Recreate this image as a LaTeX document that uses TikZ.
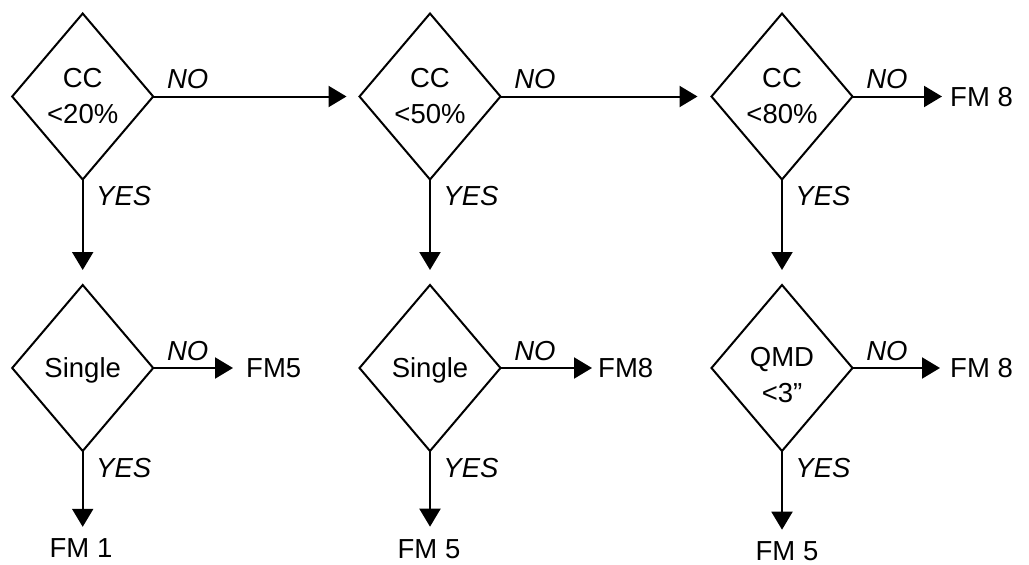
\documentclass[tikz,border=0pt]{standalone}
\usepackage{fontspec}
\setmainfont{Liberation Sans}
\usetikzlibrary{shapes.geometric,arrows.meta,calc}
\begin{document}
\begin{tikzpicture}[x=1pt,y=-1pt,
  dia/.style={draw, line width=2pt, shape=diamond, minimum width=141pt, minimum height=166pt, inner sep=0pt, outer sep=0pt},
  txt/.style={inner sep=0pt, font=\fontsize{27.5}{36}\selectfont, align=center},
  lbl/.style={inner sep=0pt, font=\fontsize{27.5}{33}\selectfont\itshape},
  res/.style={inner sep=0pt, font=\fontsize{27.5}{33}\selectfont},
  arr/.style={line width=2pt, -{Triangle[length=18pt,width=21pt]}}]
\useasboundingbox (0,0) rectangle (1029,565);
% diamonds
\node[dia] (d1) at (82.7,96.5) {};
\node[dia] (d2) at (430,96.5) {};
\node[dia] (d3) at (782,96.5) {};
\node[dia] (d4) at (82.7,368) {};
\node[dia] (d5) at (430,368) {};
\node[dia] (d6) at (782,368) {};
% texts inside
\node[txt] (t1) at (d1.center) {CC\\<20\%};
\node[txt] (t2) at (d2.center) {CC\\<50\%};
\node[txt] (t3) at (d3.center) {CC\\<80\%};
\node[txt] (t4) at ($(d4.center)+(0,2)$) {Single};
\node[txt] (t5) at ($(d5.center)+(0,2)$) {Single};
\node[txt] (t6) at ($(d6.center)+(0,7)$) {QMD\\<3”};
% results
\node[res, anchor=west] (r3) at (950,97) {FM 8};
\node[res, anchor=west] (r4) at (246,368.5) {FM5};
\node[res, anchor=west] (r5) at (598,368.5) {FM8};
\node[res, anchor=west] (r6) at (950,368.5) {FM 8};
\node[res] (b4) at (81,548.5) {FM 1};
\node[res] (b5) at (429,549.5) {FM 5};
\node[res] (b6) at (787,551.5) {FM 5};
% connectors
\draw[arr, shorten >=13pt] (d1.east) -- (d2.west);
\draw[arr, shorten >=14pt] (d2.east) -- (d3.west);
\draw[arr, shorten >=8pt] (d3.east) -- (d3.east -| r3.west);
\draw[arr, shorten >=15pt] (d1.south) -- (d4.north);
\draw[arr, shorten >=15pt] (d2.south) -- (d5.north);
\draw[arr, shorten >=15pt] (d3.south) -- (d6.north);
\draw[arr, shorten >=13pt] (d4.east) -- (d4.east -| r4.west);
\draw[arr, shorten >=6pt] (d5.east) -- (d5.east -| r5.west);
\draw[arr, shorten >=10pt] (d6.east) -- (d6.east -| r6.west);
\draw[arr, shorten >=12pt] (d4.south) -- (d4.south |- b4.north);
\draw[arr, shorten >=13pt] (d5.south) -- (d5.south |- b5.north);
\draw[arr, shorten >=12pt] (d6.south) -- (d6.south |- b6.north);
% labels
\foreach \d/\n in {d1/1,d2/2,d3/3,d4/4,d5/5,d6/6}{
  \node[lbl] (no\n) at ($(\d.east)+(34.5,-17)$) {NO};
  \node[lbl] (yes\n) at ($(\d.south)+(41,17)$) {YES};
}
\end{tikzpicture}
\end{document}
